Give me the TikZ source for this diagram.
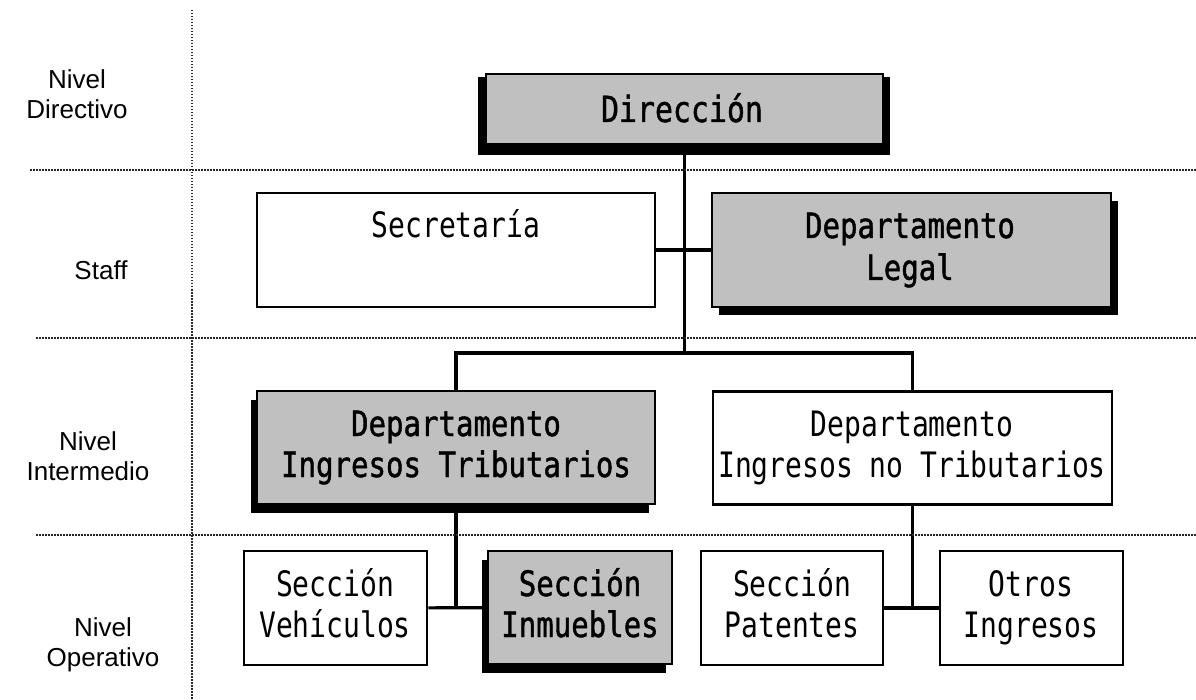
\documentclass[tikz,border=0pt]{standalone}
\usepackage{fontspec}
\usetikzlibrary{shadows,backgrounds}
\setmainfont{Liberation Sans}
\newfontfamily\unitfont[FakeStretch=0.8]{DejaVu Sans Mono}
\newfontfamily\keyfont[FakeStretch=0.83, FakeBold=1.2]{DejaVu Sans Mono}
\definecolor{unitgray}{RGB}{192,192,192}

\tikzset{
  unit/.style={draw=black, line width=2.8pt, fill=white, rectangle, inner sep=0pt},
  keyunit/.style={unit, fill=unitgray},
  shadowleft/.style={general shadow={fill=black, shadow xshift=-6pt, shadow yshift=-8.5pt}},
  shadowright/.style={general shadow={fill=black, shadow xshift=6.5pt, shadow yshift=-8pt}},
  unitlabel/.style={font=\unitfont\fontsize{35}{41}\selectfont, align=center, anchor=base, inner sep=0pt},
  keylabel/.style={unitlabel, font=\keyfont\fontsize{35}{41}\selectfont},
  levellabel/.style={font=\fontsize{26}{30}\selectfont, align=center, anchor=base, inner sep=0pt},
  link/.style={draw=black, line width=3.1pt},
  divider/.style={draw=black!85, line width=1.5pt, dash pattern=on 1.5pt off 1.5pt}
}

\begin{document}
\begin{tikzpicture}[x=1pt, y=-1pt]
  \useasboundingbox (0,0) rectangle (1196,700);

  % level dividers
  \draw[divider] (192,10) -- (192,700);
  \draw[divider] (30,170) -- (1196,170);
  \draw[divider] (36,338) -- (1196,338);
  \draw[divider] (36,535) -- (1196,535);

  % level names (placed by the baseline of their last line)
  \node[levellabel] (lv-dir) at (77,119) {Nivel\\Directivo};
  \node[levellabel] (lv-staff) at (101,280) {Staff};
  \node[levellabel] (lv-int) at (88,480) {Nivel\\Intermedio};
  \node[levellabel] (lv-op) at (103,666) {Nivel\\Operativo};

  % units
  \node[keyunit, minimum width=397pt, minimum height=70pt] (dir) at (684.5,109) {};
  \node[unit, minimum width=398pt, minimum height=114pt] (sec) at (456,250) {};
  \node[keyunit, shadowright, minimum width=399pt, minimum height=114pt] (legal) at (911.5,250) {};
  \node[keyunit, shadowleft, minimum width=398pt, minimum height=113pt] (it) at (456,447.5) {};
  \node[unit, minimum width=399pt, minimum height=113pt] (int) at (912.5,448) {};
  \node[unit, minimum width=183pt, minimum height=114pt] (veh) at (335.5,608) {};
  \node[keyunit, shadowleft, minimum width=184pt, minimum height=113pt] (inm) at (580,607.5) {};
  \node[unit, minimum width=182pt, minimum height=114pt] (pat) at (792,608) {};
  \node[unit, minimum width=183pt, minimum height=114pt] (otr) at (1031.5,608) {};

  % unit names (placed by the baseline of their last line)
  \node[keylabel, font=\keyfont\fontsize{36}{41}\selectfont] (dir-t) at (682,122) {Dirección};
  \node[unitlabel] (sec-t) at (456,238) {Secretaría};
  \node[keylabel] (legal-t) at (910,280) {Departamento\\[1pt]Legal};
  \node[keylabel] (it-t) at (456,477) {Departamento\\Ingresos Tributarios};
  \node[unitlabel] (int-t) at (912,477) {Departamento\\Ingresos no Tributarios};
  \node[unitlabel] (veh-t) at (335,637) {Sección\\Vehículos};
  \node[keylabel] (inm-t) at (580,637) {Sección\\Inmuebles};
  \node[unitlabel] (pat-t) at (792,637) {Sección\\Patentes};
  \node[unitlabel] (otr-t) at (1031,637) {Otros\\Ingresos};

  % reporting lines, with the frame shadow of the top unit above them
  \begin{scope}[on background layer]
    \coordinate (hub) at (683,353);
    \draw[link] (dir) -- (dir |- hub);
    \draw[link] (sec) -- (legal);
    \draw[link] (it) |- (hub) -| (int);
    \draw[link] (it) -- (it |- veh);
    \draw[link] (veh) -- (inm);
    \draw[link] (int) -- (int |- pat);
    \draw[link] (pat) -- (otr);
    \fill[black] ([xshift=-7pt,yshift=-10pt]dir.south west)
      rectangle ([xshift=6pt,yshift=-4pt]dir.north east);
  \end{scope}
\end{tikzpicture}
\end{document}
